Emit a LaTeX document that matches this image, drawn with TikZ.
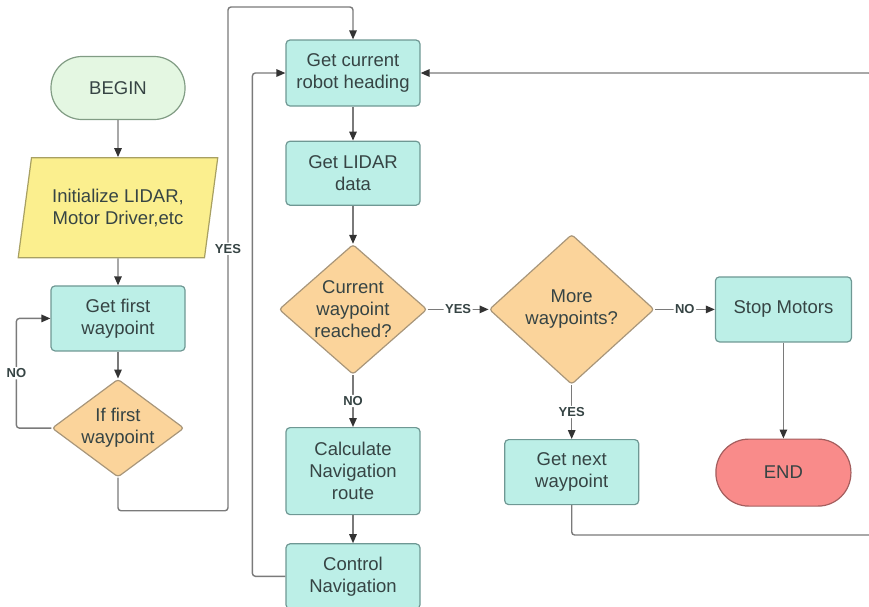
\documentclass[tikz,border=0pt]{standalone}
\usepackage{fontspec}
\setmainfont{Liberation Sans}
\usepackage{xcolor}
\usepackage{tikz}
\usetikzlibrary{shapes,arrows,positioning,calc,arrows.meta}
\definecolor{fcteal}{HTML}{BCEFE7}
\definecolor{fctealline}{HTML}{6F9894}
\definecolor{fcorange}{HTML}{FBD49B}
\definecolor{fcorangeline}{HTML}{A8967A}
\definecolor{fcyellow}{HTML}{FBEF8E}
\definecolor{fcyellowline}{HTML}{A8A062}
\definecolor{fcgreen}{HTML}{E4F7E2}
\definecolor{fcgreenline}{HTML}{819C84}
\definecolor{fcred}{HTML}{F98B8A}
\definecolor{fcredline}{HTML}{A45E5E}
\definecolor{fctext}{HTML}{364444}
\definecolor{fcline}{HTML}{7A7A7A}
\definecolor{fcarrow}{HTML}{333333}
\tikzset{
  fc process/.style={rectangle, draw=fctealline, fill=fcteal, rounded corners=4pt, align=center, minimum width=134pt, minimum height=65pt, inner sep=2pt, line width=1.2pt, text=fctext, font=\fontsize{18.5}{22}\selectfont},
  fc decision/.style={diamond, draw=fcorangeline, fill=fcorange, rounded corners=3pt, align=center, inner sep=0pt, line width=1.2pt, text=fctext, font=\fontsize{18.5}{22}\selectfont},
  fc io/.style={trapezium, trapezium left angle=76, trapezium right angle=104, trapezium stretches=true, draw=fcyellowline, fill=fcyellow, align=center, minimum width=200pt, minimum height=100pt, inner sep=2pt, line width=1.2pt, text=fctext, font=\fontsize{18.5}{22}\selectfont},
  fc start/.style={rectangle, draw=fcgreenline, fill=fcgreen, rounded corners=31pt, minimum width=134pt, minimum height=63pt, line width=1.2pt, text=fctext, font=\fontsize{18.5}{22}\selectfont},
  fc end/.style={rectangle, draw=fcredline, fill=fcred, rounded corners=33pt, minimum width=135pt, minimum height=67pt, line width=1.2pt, text=fctext, font=\fontsize{18.5}{22}\selectfont},
  fc flow/.style={draw=fcline, line width=1.4pt, rounded corners=3pt, -{Triangle[length=9pt, width=7.5pt, color=fcarrow]}},
  fc label/.style={fill=white, inner sep=1.5pt, text=fctext, font=\bfseries\fontsize{13}{13}\selectfont}
}
\begin{document}
\begin{tikzpicture}[x=1pt, y=-1pt, node distance=30pt, thick]
    \useasboundingbox (0,0) rectangle (869,606);
    % left column
    \node [fc start] (begin) at (118,88) {BEGIN};
    \node [fc io, below=37pt of begin] (init) {Initialize LIDAR,\\Motor Driver,etc};
    \node [fc process, below=27pt of init] (firstwp) {Get first\\waypoint};
    \node [fc decision, aspect=1.35, minimum width=132pt, minimum height=98pt, below=27pt of firstwp] (iffirst) {If first\\waypoint};

    % middle column
    \node [fc process, minimum height=66pt] (heading) at (353,73) {Get current\\robot heading};
    \node [fc process, minimum height=64pt, below=34pt of heading] (lidar) {Get LIDAR\\data};
    \node [fc decision, aspect=1.14, minimum width=148pt, minimum height=130pt, below=38pt of lidar] (reached) {Current\\waypoint\\reached?};
    \node [fc process, minimum height=87pt, below=52pt of reached] (calc) {Calculate\\Navigation\\route};
    \node [fc process, below=28pt of calc] (control) {Control\\Navigation};

    % right part
    \node [fc decision, aspect=1.1, minimum width=165pt, minimum height=150pt, right=61pt of reached] (more) {More\\waypoints?};
    \node [fc process, minimum width=136pt, right=60pt of more] (stop) {Stop Motors};
    \node [fc process, below=54pt of more] (nextwp) {Get next\\waypoint};
    \node [fc end, below=96pt of stop] (finish) {END};

    \coordinate (yesturn) at (228,7);
    \coordinate (backturn) at (872,535);

    % connectors
    \draw [fc flow] (begin) -- (init);
    \draw [fc flow] (init) -- (firstwp);
    \draw [fc flow] (firstwp) -- (iffirst);
    \draw [fc flow] (iffirst.west) -- ++(-35,0) |- node[fc label, pos=0.25] {NO} (firstwp.west);
    \draw [fc flow] (iffirst.south) -- ++(0,33) -| node[fc label, pos=0.76] {YES} (yesturn) -| (heading.north);
    \draw [fc flow] (heading) -- (lidar);
    \draw [fc flow] (lidar) -- (reached);
    \draw [fc flow] (reached) -- node[fc label] {NO} (calc);
    \draw [fc flow] (calc) -- (control);
    \draw [fc flow] (control.west) -- ++(-33,0) |- (heading.west);
    \draw [fc flow] (reached) -- node[fc label] {YES} (more);
    \draw [fc flow] (more) -- node[fc label] {NO} (stop);
    \draw [fc flow] (more) -- node[fc label] {YES} (nextwp);
    \draw [fc flow] (stop) -- (finish);
    \draw [fc flow] (nextwp.south) |- (backturn) |- (heading.east);
\end{tikzpicture}
\end{document}
